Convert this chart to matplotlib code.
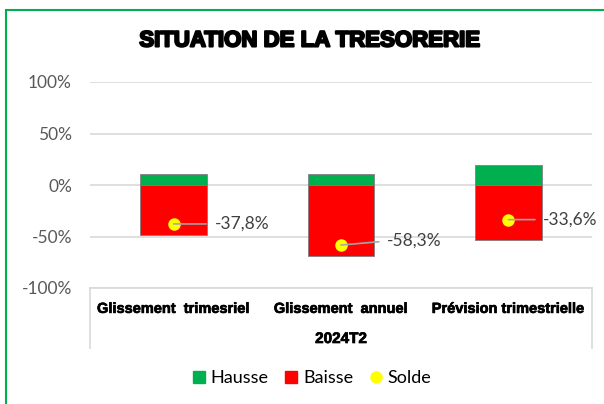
import matplotlib
matplotlib.use("Agg")
import matplotlib.pyplot as plt
import matplotlib.patheffects as pe
from matplotlib.lines import Line2D
from matplotlib.patches import Rectangle
import numpy as np

categories = ["Glissement  trimesriel", "Glissement  annuel", "Prévision trimestrielle"]
group_label = "2024T2"
hausse = [10.7, 10.6, 19.4]
baisse = [-48.5, -68.9, -53.0]
solde = [-37.8, -58.3, -33.6]
solde_txt = ["-37,8%", "-58,3%", "-33,6%"]
# label offsets in pixels from the dot
lab_off = [(41, 0), (46, 4), (35, 0)]

GREEN = "#00B050"
RED = "#FF0000"
YEL = "#FFFF00"
GRID = "#D9D9D9"

fig = plt.figure(figsize=(6.04, 4.04), dpi=100)
fig.patches.append(Rectangle((6 / 604, -0.1), 1.2, 1 - 10 / 404 + 0.1, transform=fig.transFigure,
                             fill=False, edgecolor=GREEN, linewidth=1.5))

ax = fig.add_axes([90 / 604, 1 - 288 / 404, 502 / 604, 206 / 404])
x = np.arange(len(categories))
ax.bar(x, hausse, width=0.4, color=GREEN, edgecolor="#7F7F7F", linewidth=0.6, zorder=3)
ax.bar(x, baisse, width=0.4, color=RED, edgecolor="#7F7F7F", linewidth=0.6, zorder=3)
ax.plot(x, solde, "o", color=YEL, markersize=9, markeredgewidth=0, zorder=4)

for i in range(len(x)):
    ax.annotate(solde_txt[i], xy=(x[i], solde[i]), xytext=lab_off[i], textcoords="offset pixels",
                ha="left", va="center", fontsize=12.5, family="Lato", color="#404040", zorder=5,
                arrowprops=dict(arrowstyle="-", color="#A6A6A6", lw=1.2, shrinkA=4, shrinkB=0,
                                relpos=(0, 0.5)))

ax.set_xlim(-0.5, 2.5)
ax.set_ylim(-100, 100)
ax.set_yticks([-100, -50, 0, 50, 100])
ax.set_yticklabels([f"{v}%" for v in [-100, -50, 0, 50, 100]], family="Lato", fontsize=12.5, color="#595959")
ax.yaxis.grid(True, color=GRID, linewidth=1.2, zorder=0)
ax.tick_params(axis="y", length=0, pad=13)
ax.set_xticks(x)
ax.set_xticklabels(categories, fontsize=10.5, fontweight="bold", family="Liberation Sans", color="black")
for t in ax.get_xticklabels():
    t.set_path_effects([pe.withStroke(linewidth=0.5, foreground="black")])
ax.tick_params(axis="x", length=0, pad=10)
for s in ["left", "right", "top"]:
    ax.spines[s].set_visible(False)
ax.spines["bottom"].set_color(GRID)
ax.spines["bottom"].set_linewidth(1.2)

ax.text(0.5, (288 - 339) / 206, group_label, transform=ax.transAxes, ha="center", va="center",
        fontsize=11, fontweight="bold", family="Liberation Sans",
        path_effects=[pe.withStroke(linewidth=0.5, foreground="black")])
for xx in [0, 1]:
    ax.add_line(Line2D([xx, xx], [0, -60 / 206], transform=ax.transAxes, color=GRID,
                       linewidth=1.2, clip_on=False))

fig.text(310 / 604, 1 - 41 / 404, "SITUATION DE LA TRESORERIE", ha="center", va="center",
         fontsize=16, fontweight="heavy", family="Liberation Sans",
         path_effects=[pe.withStroke(linewidth=1.5, foreground="black")])

handles = [Line2D([], [], marker="s", linestyle="none", color=GREEN, markersize=8),
           Line2D([], [], marker="s", linestyle="none", color=RED, markersize=8),
           Line2D([], [], marker="o", linestyle="none", color=YEL, markersize=8)]
fig.legend(handles, ["Hausse", "Baisse", "Solde"], loc="center", bbox_to_anchor=(312 / 604, 26 / 404),
           ncol=3, frameon=False, prop={"family": "Lato", "size": 13}, handlelength=0.7,
           handletextpad=0.3, columnspacing=0.9, labelcolor="black")

fig.savefig("out.png", dpi=100)
